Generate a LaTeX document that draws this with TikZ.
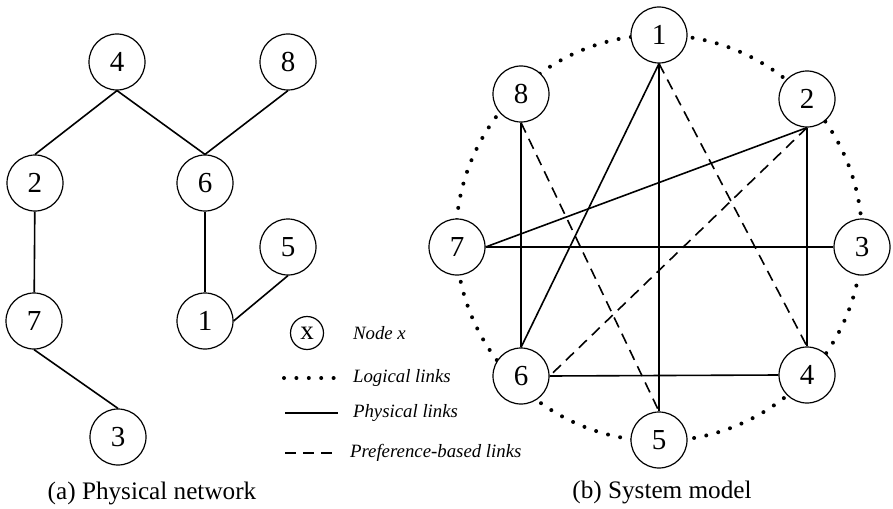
\documentclass[tikz,border=0pt]{standalone}
\usepackage{fontspec}
\setmainfont{Liberation Serif}
\tikzset{
  vertex/.style={circle,draw,line width=0.6pt,fill=white,minimum size=28pt,inner sep=0pt,font=\fontsize{14.5}{15}\selectfont},
  smallvertex/.style={vertex,minimum size=16.5pt,font=\fontsize{13.5}{14}\selectfont},
  logical/.style={line width=2pt,line cap=round,dash pattern=on 0pt off 6.2pt},
  physical/.style={line width=0.8pt},
  preference/.style={line width=0.8pt,dash pattern=on 5.5pt off 3.5pt},
  legendtext/.style={anchor=west,font=\fontsize{9.4}{11}\selectfont\itshape},
  caption/.style={font=\fontsize{12.6}{14}\selectfont}
}
\begin{document}
\begin{tikzpicture}[x=0.5pt,y=-0.5pt]
                \useasboundingbox (0,0) rectangle (893,508);

                % physical network
                \node[vertex] (a4) at (117,62) {4};
                \node[vertex] (a8) at (288,62) {8};
                \node[vertex] (a2) at (35,183) {2};
                \node[vertex] (a6) at (205,183) {6};
                \node[vertex] (a5) at (288,247) {5};
                \node[vertex] (a1) at (205,321) {1};
                \node[vertex] (a7) at (34,321) {7};
                \node[vertex] (a3) at (118,437) {3};

                \draw[physical] (a4.south) to (a2.north); \draw[physical] (a4.south) to (a6.north); \draw[physical] (a8.south) to (a6.north);
                \draw[physical] (a2) to (a7); \draw[physical] (a6) to (a1); \draw[physical] (a1.east) to (a5.south); \draw[physical] (a7.south) to (a3.north);

                % system model
                \coordinate (c) at (659,238);
                \draw[logical] (c) circle (101.5pt);

                \node[vertex] (b1) at (659,35) {1};
                \node[vertex] (b8) at (521,94) {8};
                \node[vertex] (b2) at (807,99) {2};
                \node[vertex] (b7) at (457,247) {7};
                \node[vertex] (b3) at (862,247) {3};
                \node[vertex] (b6) at (521,376) {6};
                \node[vertex] (b4) at (807,375) {4};
                \node[vertex] (b5) at (659,440) {5};

                \draw[physical] (b1.south) to (b6.north); \draw[physical] (b1.south) to (b5.north); \draw[preference] (b1.south) to (b4.north);
                \draw[physical] (b8.south) to (b6.north); \draw[preference] (b8.south) to (b5.north);
                \draw[physical] (b2.south) to (b7.east); \draw[physical] (b2.south) to (b4.north); \draw[preference] (b2.south) to (b6.east);
                \draw[physical] (b7.east) to (b3.west); \draw[physical] (b6.east) to (b4.west);

                % legend
                \node[smallvertex] (lx) at (307,333) {x};
                \node[legendtext] (lnode) at (346,333) {Node x};
                \coordinate (ldot1) at (284,378); \coordinate (ldot2) at (336,378);
                \draw[logical] (ldot1) to (ldot2);
                \node[legendtext] (llog) at (346,378) {Logical links};
                \coordinate (lphy1) at (285,413); \coordinate (lphy2) at (338,413);
                \draw[physical] (lphy1) to (lphy2);
                \node[legendtext] (lphy) at (346,413) {Physical links};
                \coordinate (lpre1) at (285,453); \coordinate (lpre2) at (338,453);
                \draw[preference] (lpre1) to (lpre2);
                \node[legendtext] (lpre) at (343,453) {Preference-based links};

                \node[caption] (capa) at (152,493) {(a) Physical network};
                \node[caption] (capb) at (662,492) {(b) System model};
            \end{tikzpicture}
\end{document}
